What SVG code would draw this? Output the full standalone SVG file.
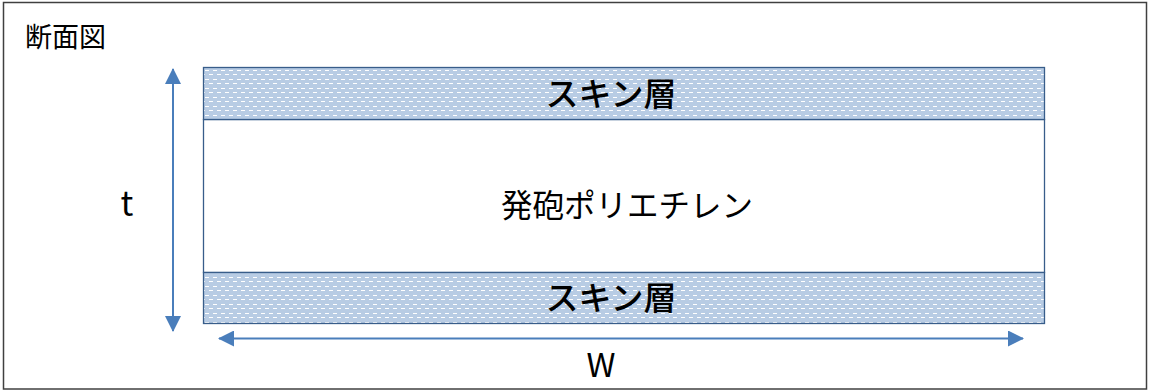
<svg xmlns="http://www.w3.org/2000/svg" width="1149" height="391" viewBox="0 0 1149 391">
<style>
.skin{fill:url(#dots);stroke:#385D8A;stroke-width:1.3}
.core{fill:#FFFFFF;stroke:#385D8A;stroke-width:1.3}
.lbl{font-family:"Noto Sans CJK JP","Noto Sans",sans-serif;fill:#000}
.conn{stroke:#4A7EBB;stroke-width:2;fill:none}
.dash{fill:#FFFFFF;shape-rendering:crispEdges}
</style>
<defs>
<pattern id="dots" patternUnits="userSpaceOnUse" x="204" y="68" width="8" height="9">
<rect width="8" height="9" fill="#B8CCE4" shape-rendering="crispEdges"/>
<rect class="dash" x="1" y="2" width="4" height="1"/>
<rect class="dash" x="5" y="6" width="3" height="1"/>
<rect class="dash" x="0" y="6" width="1" height="1"/>
</pattern>
<marker id="ah" viewBox="0 0 16 16" refX="15" refY="8" markerWidth="16" markerHeight="16" markerUnits="userSpaceOnUse" orient="auto">
<path d="M0,0 L16,8 L0,16 Z" fill="#4A7EBB"/>
</marker>
</defs>
<rect x="0" y="0" width="1149" height="391" fill="#FFFFFF"/>
<rect id="frame" x="3.5" y="2.5" width="1143" height="386.5" fill="#FFFFFF" stroke="#404040" stroke-width="1.5"/>
<g id="title"><text class="lbl" x="25" y="47" font-size="27">断面図</text></g>
<g id="core"><rect class="core" x="203.5" y="119.5" width="841" height="153"/>
<text class="lbl" x="627" y="217" font-size="31.5" text-anchor="middle">発砲ポリエチレン</text></g>
<g id="skin-top"><rect class="skin" x="203.5" y="67.5" width="841" height="52"/>
<text class="lbl" x="611" y="106" font-size="33" font-weight="500" text-anchor="middle">スキン層</text></g>
<g id="skin-bottom"><rect class="skin" x="203.5" y="272.5" width="841" height="51"/>
<text class="lbl" x="611" y="310" font-size="33" font-weight="500" text-anchor="middle">スキン層</text></g>
<g id="connectors">
<line class="conn" x1="173" y1="200" x2="173" y2="69" marker-end="url(#ah)"/>
<line class="conn" x1="173" y1="200" x2="173" y2="331" marker-end="url(#ah)"/>
<line class="conn" x1="620" y1="338.5" x2="219" y2="338.5" marker-end="url(#ah)"/>
<line class="conn" x1="620" y1="338.5" x2="1023" y2="338.5" marker-end="url(#ah)"/>
</g>
<g id="label-t"><text class="lbl" x="127" y="216" font-size="34" text-anchor="middle">t</text></g>
<g id="label-w"><text class="lbl" x="601" y="377" font-size="33" text-anchor="middle">W</text></g>
</svg>
